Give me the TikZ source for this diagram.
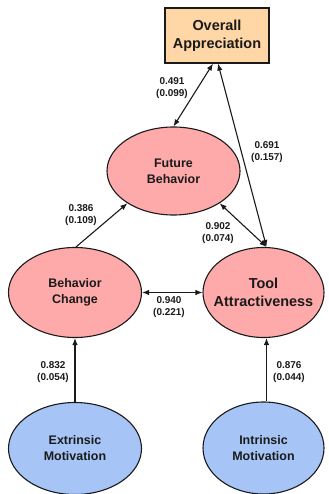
\documentclass[tikz,border=0pt]{standalone}
\usepackage{fontspec}
\setmainfont{Liberation Sans}
\usetikzlibrary{positioning,arrows.meta,shapes.geometric}

\definecolor{apprfill}{HTML}{FFD6A5}
\definecolor{latred}{HTML}{FFAAAA}
\definecolor{latblue}{HTML}{A6C4F6}
\definecolor{inkdark}{HTML}{1A1A1A}

\begin{document}
\begin{tikzpicture}[
  x=1bp, y=-1bp,
  font=\bfseries, text=inkdark,
  >={Latex[length=7bp,width=5.5bp]},
  latent/.style={
    ellipse, draw=inkdark, line width=1.1bp, inner sep=0pt,
    align=center, minimum width=133bp, minimum height=90bp
  },
  redlat/.style={latent, fill=latred},
  bluelat/.style={latent, fill=latblue},
  outbox/.style={
    draw=inkdark, line width=1.1bp, fill=apprfill, align=center,
    minimum width=104bp, minimum height=55bp, inner sep=0pt
  },
  bigtext/.style={font=\fontsize{14.5}{18}\selectfont\bfseries},
  midtext/.style={font=\fontsize{12.5}{16}\selectfont\bfseries},
  coef/.style={align=center, font=\fontsize{10}{12.5}\selectfont\bfseries},
  arrow/.style={->, line width=1.1bp, inkdark},
  biarrow/.style={<->, line width=1.1bp, inkdark}
]
\useasboundingbox (0,0) rectangle (328,494);

% ---------- outcome ----------
\node[outbox, bigtext] (appr) at (217,35.5) {Overall\\Appreciation};

% ---------- latent constructs ----------
\node[redlat, midtext, minimum height=88bp] (fut) at (173.5,171) {Future\\Behavior};
\node[redlat, midtext] (beh) at (75,292.5) {Behavior\\Change};
% wide label: shrink the x padding so the ellipse keeps its size
\node[redlat, bigtext, minimum width=121bp, inner xsep=-8bp] (tool) at (263.5,292.5) {Tool\\Attractiveness};
\node[bluelat, midtext, minimum height=92bp] (ext) at (75,448.5) {Extrinsic\\Motivation};
\node[bluelat, midtext, minimum width=121bp, minimum height=92bp] (intr) at (263.5,448) {Intrinsic\\Motivation};

% ---------- paths ----------
\draw[biarrow] ([xshift=-4bp]appr.south) -- (fut.north);
\draw[biarrow] ([xshift=1bp]appr.south) -- ([xshift=3bp]tool.north);
\draw[arrow] ([xshift=1bp]beh.north) -- (fut.-145);
\draw[biarrow] ([xshift=3bp]tool.north) -- (fut.-35);
\draw[biarrow] (beh.east) -- (tool.west);
\draw[arrow] (ext.north) -- (beh.south);
\draw[arrow] ([xshift=3bp]intr.north) -- ([xshift=3bp]tool.south);

% ---------- estimates (s.e.) ----------
\node[coef] (c491) at (172,88) {0.491\\(0.099)};
\node[coef] (c691) at (267,152) {0.691\\(0.157)};
\node[coef] (c386) at (81,215) {0.386\\(0.109)};
\node[coef] (c902) at (218,233) {0.902\\(0.074)};
\node[coef] (c940) at (169,307) {0.940\\(0.221)};
\node[coef] (c832) at (53,372) {0.832\\(0.054)};
\node[coef] (c876) at (289,372) {0.876\\(0.044)};

\end{tikzpicture}
\end{document}
